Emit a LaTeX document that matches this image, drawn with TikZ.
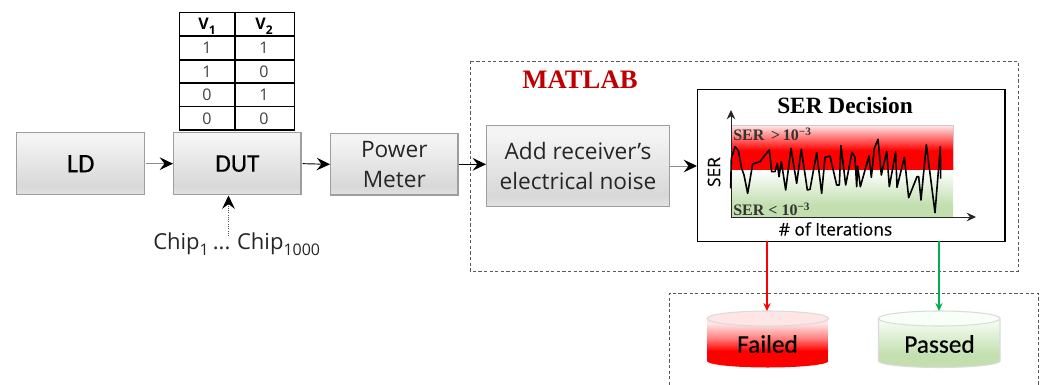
\documentclass[tikz,border=0pt]{standalone}
\usepackage{fontspec}
\setmainfont{Open Sans}
\newfontfamily\carl[FakeBold=0.35]{Carlito}
\newfontfamily\opheavy[FakeBold=0.3]{Open Sans}
\newfontfamily\lserif{Liberation Serif}
\usetikzlibrary{arrows.meta,calc}
\definecolor{bxA}{HTML}{F4F4F4}
\definecolor{bxB}{HTML}{D8D8D8}
\definecolor{bxC}{HTML}{E2E2E2}
\definecolor{passgreen}{HTML}{C3DFB0}
\definecolor{mlred}{HTML}{C00000}
\definecolor{greenarrow}{HTML}{00B050}
\colorlet{palered}{red!10!white}
\colorlet{midred}{red!50!white}
\colorlet{palegreen}{green!3!white}
\pgfdeclareverticalshading{boxgray}{100bp}{color(0bp)=(bxC);color(25bp)=(bxC);color(32bp)=(bxB);color(70bp)=(bxA);color(75bp)=(bxA);color(100bp)=(bxA)}
\pgfdeclareverticalshading{redband}{100bp}{color(0bp)=(red);color(25bp)=(red);color(47bp)=(red);color(75bp)=(palered);color(100bp)=(palered)}
\pgfdeclareverticalshading{greenband}{100bp}{color(0bp)=(passgreen);color(25bp)=(passgreen);color(38bp)=(passgreen);color(75bp)=(white);color(100bp)=(white)}
\pgfdeclareverticalshading{failcyl}{100bp}{color(0bp)=(red);color(25bp)=(red);color(42bp)=(red);color(55bp)=(midred);color(70bp)=(palered);color(100bp)=(palered)}
\pgfdeclareverticalshading{passcyl}{100bp}{color(0bp)=(passgreen);color(25bp)=(passgreen);color(38bp)=(passgreen);color(75bp)=(palegreen);color(100bp)=(palegreen)}
\tikzset{
  x=0.75pt,y=-0.75pt,
  graybox/.style={draw=black!38,line width=1pt,shading=boxgray,anchor=north west,inner sep=0pt,align=center},
  flow/.style={-{Stealth[length=10pt,width=9.5pt,inset=3.6pt,black]},line width=0.7pt,draw=black},
  flowgray/.style={flow,draw=black!45},
  framedash/.style={draw=black!65,line width=0.6pt,dash pattern=on 2.4pt off 1.8pt},
  tabletext/.style={font=\fontsize{12}{12}\selectfont,text=black!75},
  tablehead/.style={font=\bfseries\fontsize{12}{12}\selectfont,text=black},
  cylbox/.style={minimum width=91pt,minimum height=42pt,inner sep=0pt,anchor=north west},
  cyledge/.style={draw=black!14,line width=0.8pt},
  axisline/.style={-{Stealth[length=7pt,width=6.5pt,inset=2.4pt]},line width=0.75pt,draw=black!85},
  bandlabel/.style={font=\lserif\bfseries\fontsize{12}{12}\selectfont,text=black!80,anchor=west,inner sep=0pt},
  cyltext/.style={font=\carl\fontsize{19}{19}\selectfont}
}
\begin{document}
\begin{tikzpicture}
\useasboundingbox (0,0) rectangle (1042,385);
% frames
\draw[framedash] (470,61) rectangle (1018,271);
\draw[framedash] (669.5,385) -- (669.5,293) -- (1038,293) -- (1038,385);
% table
\draw[line width=0.9pt,draw=black] (179.5,12.5) rectangle (294.5,130);
\foreach \yy in {36,60,83,106.5}{\draw[line width=0.9pt] (179.5,\yy) -- (294.5,\yy);}
\draw[line width=0.9pt] (235,12.5) -- (235,130);
\node[tablehead] (h1) at (207,26) {V\raisebox{-3.5pt}{\fontsize{9}{9}\selectfont 1}};
\node[tablehead] (h2) at (264,26) {V\raisebox{-3.5pt}{\fontsize{9}{9}\selectfont 2}};
\node[tabletext] (a1) at (207,48) {1};  \node[tabletext] (b1) at (264,48) {1};
\node[tabletext] (a2) at (207,72) {1};  \node[tabletext] (b2) at (264,72) {0};
\node[tabletext] (a3) at (207,95) {0};  \node[tabletext] (b3) at (264,95) {1};
\node[tabletext] (a4) at (207,119) {0}; \node[tabletext] (b4) at (264,119) {0};
% boxes
\node[graybox,minimum width=96pt,minimum height=46.5pt,font=\carl\fontsize{20}{20}\selectfont] (ld) at (16,132) {LD};
\node[graybox,minimum width=95.5pt,minimum height=46.5pt,font=\carl\fontsize{19}{19}\selectfont] (dut) at (173,132) {DUT};
\node[graybox,minimum width=95.5pt,minimum height=46pt,font=\fontsize{17}{22.5}\selectfont,text=black!85] (pm) at (330,133) {Power\\Meter};
\node[graybox,minimum width=137pt,minimum height=60.5pt,font=\fontsize{17}{22.5}\selectfont,text=black!85] (noise) at (486,125) {Add receiver’s\\electrical noise};
% SER box
\node[draw=black,line width=1pt,fill=white,anchor=north west,minimum width=230.5pt,minimum height=114pt,inner sep=0pt] (ser) at (697,89) {};
\node[font=\lserif\bfseries\fontsize{17.5}{17.5}\selectfont] (sertitle) at (845,106) {SER Decision};
\path[shading=redband] (731,125.5) rectangle (953,170);
\path[shading=greenband] (731,170) rectangle (953,217);
\draw[black!20,line width=0.5pt] (731,125.5) -- (953,125.5) -- (953,170);
\coordinate (org) at (731,217);
\coordinate (ytip) at (731,110);
\coordinate (xtip) at (976,217);
\draw[axisline] (org) -- (ytip);
\draw[axisline] (org) -- (xtip);
\begin{scope}[shift={(680,80)},x=0.25pt,y=-0.25pt]
\draw[line width=1.2pt,black,line join=round] plot coordinates {(152,325) (154,235) (165,200) (175,212) (185,265) (192,285) (203,340) (218,252) (240,245) (255,225) (268,210) (275,275) (285,275) (292,250) (297,290) (304,245) (317,330) (333,205) (350,310) (364,208) (382,330) (390,328) (410,218) (425,340) (435,232) (450,228) (470,315) (478,315) (483,197) (497,315) (516,217) (525,232) (530,320) (533,258) (541,320) (567,228) (574,292) (583,205) (594,178) (604,285) (620,214) (628,320) (647,216) (651,322) (673,232) (686,353) (711,290) (716,290) (723,360) (739,194) (765,398) (781,200) (782,296)};
\end{scope}
\node[bandlabel] (hi) at (733,134.5) {SER \,>\,10\raisebox{4pt}{\fontsize{8.5}{8.5}\selectfont −3}};
\node[bandlabel] (lo) at (733,209.5) {SER < 10\raisebox{4pt}{\fontsize{8.5}{8.5}\selectfont −3}};
\node[font=\opheavy\fontsize{13}{13}\selectfont,rotate=90] (ylab) at (714,172) {SER};
\node[font=\opheavy\fontsize{13}{13}\selectfont] (xlab) at (835.5,229) {\# of Iterations};
\node[font=\lserif\bfseries\fontsize{20}{20}\selectfont,text=mlred] (mat) at (580,80) {MATLAB};
% chip label
\node[font=\fontsize{16.5}{16.5}\selectfont,text=black!85,anchor=west,inner sep=0pt] (chip) at (153,244) {Chip\raisebox{-4.5pt}{\fontsize{12}{12}\selectfont 1}\kern3pt...\kern5pt Chip\raisebox{-4.5pt}{\fontsize{12}{12}\selectfont 1000}};
\coordinate (chiptop) at (228.5,236);
\coordinate (dutin) at (228.5,195.5);
% cylinders
\node[cylbox] (fail) at (707,311) {};
\node[cylbox] (pass) at (878.5,311) {};
\path[shading=failcyl] (707,318.5) -- (828.5,318.5) -- (828.5,361) arc[start angle=0,end angle=180,x radius=60.75,y radius=6.5] -- cycle;
\path[shading=passcyl] (878.5,318.5) -- (1000,318.5) -- (1000,361) arc[start angle=0,end angle=180,x radius=60.75,y radius=6.5] -- cycle;
\fill[palered,draw=black!14,line width=0.8pt] (767.75,318.5) ellipse[x radius=60.75,y radius=7.5];
\fill[palegreen,draw=black!14,line width=0.8pt] (939.25,318.5) ellipse[x radius=60.75,y radius=7.5];
\draw[cyledge] (878.5,318.5) -- (878.5,361) arc[start angle=180,end angle=0,x radius=60.75,y radius=6.5] -- (1000,318.5);
\node[cyltext] (failt) at (767.5,344) {Failed};
\node[cyltext] (passt) at (939.5,344) {Passed};
% connectors
\draw[flowgray] ($(ld.east)+(1,0)$) -- (dut.west);
\draw[flow] ($(dut.east)+(1,0)$) -- (pm.west);
\draw[flow] (pm.east) -- (noise.west |- pm.east);
\draw[flowgray] (noise.east) -- (ser.west |- noise.east);
\draw[-{Stealth[length=10pt,width=9.5pt,inset=3.6pt,black]},line width=0.7pt,draw=black!70,densely dotted] (chiptop) -- (dutin);
\coordinate (failout) at (767,241);
\coordinate (passout) at (939,241);
\draw[-{Stealth[length=6pt,width=5.5pt,inset=2pt,red]},color=red,line width=0.85pt] (failout) -- (fail.north -| failout);
\draw[-{Stealth[length=6pt,width=5.5pt,inset=2pt,greenarrow]},color=greenarrow,line width=0.85pt] (passout) -- (pass.north -| passout);
\end{tikzpicture}
\end{document}
